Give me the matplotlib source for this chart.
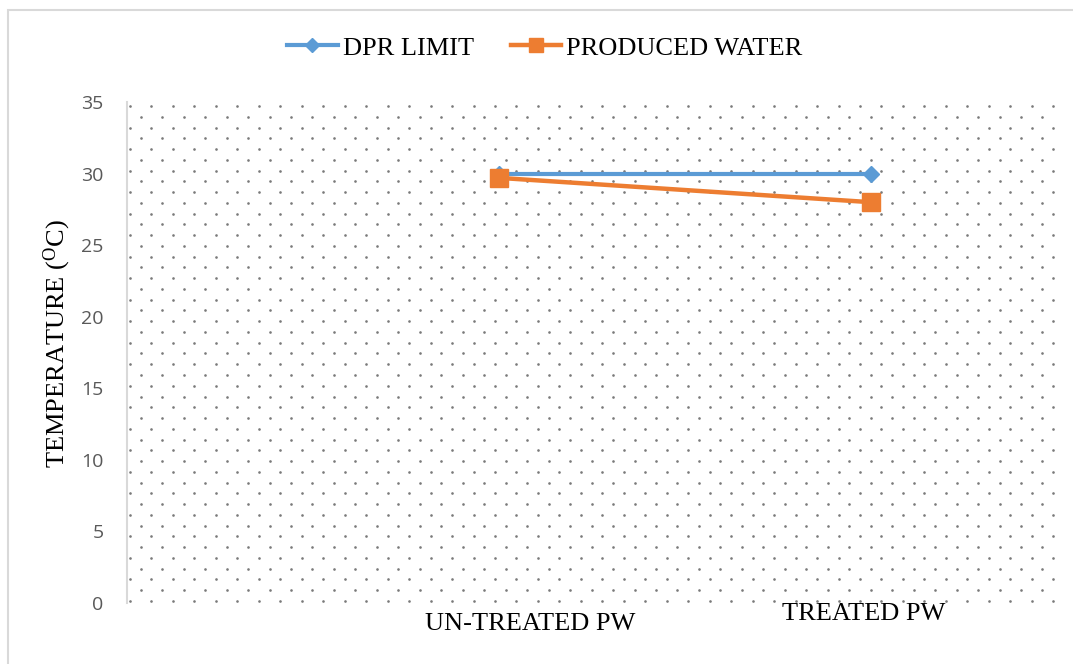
import numpy as np
import matplotlib.pyplot as plt
import matplotlib.transforms as mtransforms
from matplotlib.patches import Rectangle

# temperature readings, deg C
categories = ["UN-TREATED PW", "TREATED PW"]
dpr_limit = [30, 30]
produced_water = [29.7, 28]
y_ticks = [0, 5, 10, 15, 20, 25, 30, 35]

BLUE = "#5B9BD5"
ORANGE = "#ED7D31"
SERIF = "Liberation Serif"

fig = plt.figure(figsize=(10.73, 6.64), dpi=100)
ax = fig.add_axes([127 / 1073, 1 - 603 / 664, 930 / 1073, 501 / 664])

# dotted fill of the plot area (staggered rows)
ax_w, ax_h = 930.0, 501.0
dot_x, dot_y = [], []
for r in range(47):
    yy = 1 - (4 + r * 10.76) / ax_h
    x0 = 3 if r % 2 == 0 else 3 + 10.73
    xs = np.arange(x0, ax_w - 1, 21.47)
    dot_x.extend(xs / ax_w)
    dot_y.extend([yy] * len(xs))
ax.plot(dot_x, dot_y, ls="none", marker="o", ms=1.9, mew=0,
        color="#7a7a7a", transform=ax.transAxes, zorder=0, clip_on=False)

x = np.arange(1, len(categories) + 1)
ax.plot(x, dpr_limit, color=BLUE, lw=3.0, marker="D", ms=8.5,
        label="DPR LIMIT", zorder=3)
ax.plot(x, produced_water, color=ORANGE, lw=3.2, marker="s", ms=12.5,
        label="PRODUCED WATER", zorder=4)

ax.set_xlim(0, 2.5)
ax.set_ylim(0, 35)
ax.set_yticks(y_ticks)
ax.tick_params(axis="y", length=0, pad=17, labelsize=14, labelcolor="#595959")
for lab in ax.get_yticklabels():
    lab.set_fontfamily("Open Sans")

ax.set_xticks(x)
ax.set_xticklabels(categories, fontfamily=SERIF, fontsize=19)
ax.tick_params(axis="x", length=0, pad=5)
# the category labels sit a little off their points
offsets = [(31, -3), (-7, 7)]
for lab, (dx, dy) in zip(ax.get_xticklabels(), offsets):
    lab.set_transform(lab.get_transform() +
                      mtransforms.ScaledTranslation(dx / 100, dy / 100, fig.dpi_scale_trans))

for side in ["top", "right", "bottom"]:
    ax.spines[side].set_visible(False)
ax.spines["left"].set_color("#d9d9d9")
ax.spines["left"].set_linewidth(1.5)

fig.text(57 / 1073, 1 - 344 / 664, r"TEMPERATURE ($\mathregular{^{O}}$C)",
         rotation=90, ha="center", va="center", fontfamily=SERIF, fontsize=19)

fig.legend(loc="center", bbox_to_anchor=(545 / 1073, 1 - 48 / 664), ncol=2,
           frameon=False, prop={"family": SERIF, "size": 19},
           handlelength=1.9, handletextpad=0.2, columnspacing=1.4,
           markerscale=0.85)

# chart border
fig.patches.append(Rectangle((8 / 1073, -0.1), 1.2, 1 - 10 / 664 + 0.1,
                             transform=fig.transFigure, fill=False,
                             edgecolor="#d9d9d9", lw=1.5))

fig.savefig("out.png", dpi=100)
